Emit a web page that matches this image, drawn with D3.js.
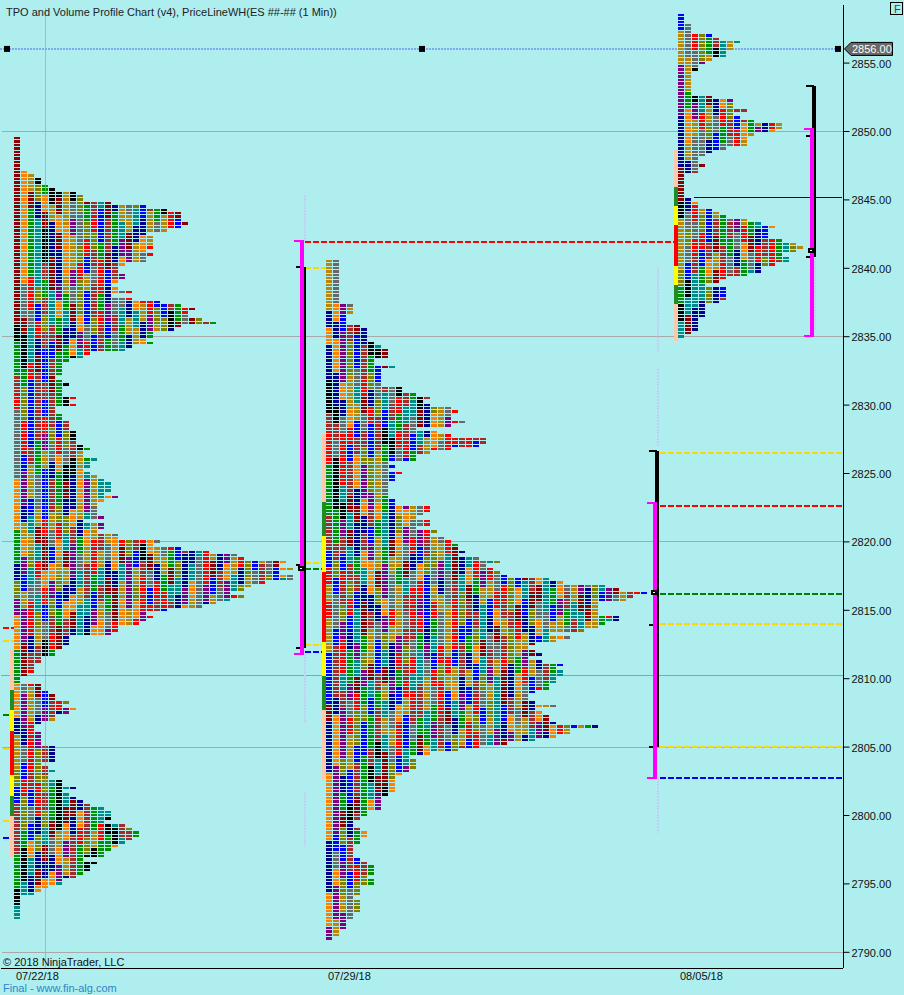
<!DOCTYPE html>
<html><head><meta charset="utf-8">
<script src="https://cdn.jsdelivr.net/npm/d3@7/dist/d3.min.js"></script>
<style>html,body{margin:0;padding:0;background:#afeeee}svg{display:block}text{font-family:"Liberation Sans",Arial,sans-serif}</style>
</head><body><svg id="c" width="904" height="995"></svg>
<script>
// ---------- data ----------
const tickPrices=[2855,2850,2845,2840,2835,2830,2825,2820,2815,2810,2805,2800,2795,2790];
const sessionDates=["07/22/18","07/29/18","08/05/18"];
const sessionTop=[2849.5,2840.5,2858.5];
const gridPrices=[2850,2835,2820,2805,2790];
const lastPrice=2856;
const widths1=[1,1,1,1,1,1,1,1,1,1,2,3,4,4,5,6,9,10,10,14,19,22,24,24,24,25,24,22,19,20,20,20,20,19,20,19,19,16,15,15,16,16,15,14,15,17,14,17,21,24,26,25,25,27,29,24,23,20,20,19,20,17,16,11,10,8,7,7,7,7,6,7,8,7,7,7,
9,8,9,6,6,7,7,8,8,8,9,9,9,9,10,11,10,10,12,11,11,10,11,12,13,14,14,14,13,15,13,12,12,12,12,13,10,13,13,12,15,15,21,20,24,28,32,33,39,38,40,38,40,40,36,34,33,31,33,31,29,27,22,19,20,19,18,15,15,14,8,8,8,7,6,6,4,4,3,3,3,2,1,
1,4,4,5,6,6,8,7,9,8,6,6,4,3,3,4,4,4,4,6,6,6,6,6,4,5,6,5,5,7,7,9,7,8,9,10,11,13,14,14,14,13,16,17,18,18,17,16,15,14,13,13,10,12,11,11,10,9,7,7,5,4,3,1,1,1,1,1,1,1];
const widths2=[2,2,2,2,2,2,2,2,2,2,2,2,2,4,4,4,3,3,3,5,6,6,6,6,7,8,9,9,9,7,7,10,8,8,8,8,8,11,11,13,15,14,15,18,19,18,18,20,18,13,16,18,23,23,22,18,15,13,13,9,10,9,11,10,10,9,9,9,9,9,10,10,
15,15,14,13,15,15,13,16,15,17,18,19,19,20,19,22,25,23,24,25,26,32,34,40,42,46,44,43,39,39,39,39,42,42,40,39,37,32,35,33,30,29,30,31,29,31,34,33,34,34,33,33,32,32,30,29,29,30,33,30,31,32,32,33,
39,35,35,33,30,26,22,19,15,12,13,13,13,12,11,10,10,10,10,10,9,8,8,8,8,6,6,5,4,4,5,6,6,5,5,4,4,4,4,5,6,7,7,7,6,7,7,5,5,5,4,5,5,5,5,4,4,3,3,3,2,2,1];
const widths3=[1,1,1,2,2,2,5,6,9,8,8,7,7,5,4,3,3,2,2,2,2,2,2,2,5,8,8,8,10,8,9,11,15,15,14,11,10,10,10,7,5,4,3,3,4,3,3,1,1,
1,1,1,1,1,2,3,3,5,6,7,10,12,14,13,13,13,15,17,18,17,15,16,16,14,12,12,10,7,6,4,7,7,7,7,6,4,4,4,4,3,3,3,3,2,1];
// colour letters across the columns, one string for each run of five rows
const letters1=["d","d","donkk","doglnkkkkd","dodaogdgylnwtdagylbwnkt","dontdaogpylrbwntgtagygrb","dontkadogyrlbwnpdaogryrg","dontkdaoglbwndaopgyrrr","dontwdaoprgyrbwpkgyrlb","dyrlntpgylbwraoyryrlb","dyrbwtondlbwnpytaogrlbwnrdaog","kdyrlwntaoylrbwngtapgl","nktawbdaoprbwnytago","nktdbwn","wnrwbdn","rlbwwwnk","ylbwbwnk","yrbwrlbwk","yrbnpyrlwkntk","ybwngaoykgtt","opgybwnkaopgtt","opgybwndaopgt","oabgbglaogty","ngtdryrlwaogpgyrtdrlyoyr","nogtdbotpngrwyodlwkogyrbwatagrpydaogtdao","aplrdogdpywrgaotpbwdagnlatyrdaogrlbwydogyr","lbtyoplgatwntdagpgryrndtaoyrbwptagyr","pgytrlbaogtbwndoplrbwrtapgy","oprlbwnodtapgydog","oprgyrdwatko","ndawk","ndw","oyrdbd","opgybwrl","apg","garpwaa","gyrlwad","lbrlwtddkt","brwrlnktat","wlbrwnktdawnkt","wlyaldkdaowntkt","wnbltygowrlgrnkt","nkoadaopwnkk","nktdaopgwn","ktaoo","t"];
const letters2=["gy","gy","gy","aopgy","oabwdaop","aoplbwktdd","aoplbwnkdt","kapgyrlbwnkt","kaogtdaytyrwnkwlnkt","wkaogyrlbwnttdaogyr","rwyrbwbwktrwytaogpryrwg","ryrbwlbwnkyrbwg","nkrwoplgybrb","nkrwoplgyb","nktdaopgnbopgyp","wnktdawotalogyrl","wnpdawbntaopyprgy","bwwtaopgndgyrbwlgrdatyotg","rlbwntogpgndaolyptdaoryrlbwgdaogy","gbrlwaodpygtyrbgaywtdnpgyrlbtwdtaoygpyltpdaw","rywrbdaloygwrpbrgyrlwagbrwlobdytnpwtdagbrygn","gylbtdwaprgyrrbnygrlbwtaogwdaloybgnwtdgntab","gbpatngylgpwwnatygrbnltydwlrgabtgoyrl","bwrnplgbtarlytpbrgbwaodwyrlgpdatg","bwrntpdbdanwrtyrlrgwgbtpgdanrgywnt","bwtpdntwgpbrtwgyrgoabwlgtdaoybrnt","dawyrlbntaogrwgnrbtpgryltbwgdaogy","aoprlbnwgyrbwntpwdanrlbgtaoygwpdarlbgt","aopglbnwtgrbydntwylgbrytpdpgatw","aopgbnwkdybtn","oplbwnktdl","opabwntdk","opnkdn","opdaw","ablwn","aybwbwn","aopbrlnk","oplyl","opgyl","pg"];
const letters3=["bw","gyrlbwnkt","gyrlnkt","pgy","pgkto","pnktdaopwaa","aoprgyrlbwngyrlbw","aogylbnwrogp","agyy","day","dwwd","kaogygylbwnkt","gyrlbwnypgntaowr","glyrbdnwyrdabrntg","gyrbwgwnaoyrwrntl","lbwnodrywnta","nkttlabw","kttalbw","tdaww"];
const palette={d:"#8b0000",a:"#00008b",o:"#ff8000",p:"#800080",g:"#b8860b",y:"#696969",r:"#ff0000",l:"#808000",b:"#0000ff",w:"#a52a2a",n:"#009000",k:"#000000",t:"#008b8b"};
// value-area column: prices of the band edges
const bandEdges1=[2812.15,2809.15,2807.7,2806.15,2802.95,2801.4,2799.95,2796.95];
const bandEdges2=[2827.85,2822.9,2820.4,2817.75,2812.65,2810.15,2807.65,2802.6];
const bandEdges3=[2848.6,2845.9,2844.5,2843.1,2840.1,2838.75,2837.35,2834.65];
const bandColors=["#ffc8aa","#228b22","#ffff00","#ff0000","#ffff00","#228b22","#ffc8aa"];
// session ranges (high, low)
const magentaRange=[[2842.0,2811.7],[2822.9,2802.65],[2850.2,2834.95]];
const blackRange=[[2840.05,2812.2],[2826.6,2804.95],[2853.3,2840.8]];
const blackTicks=[[2818.3,2812.2,2840.05],[2813.9,2804.95,2826.6],[2849.6,2840.8,2853.3]];
const pocPrice=[2818,2816.25,2841.3];
const levelPrices=[
 {p:2841.9,c:"#ff0000",f:0,to:1},{p:2840,c:"#ffd700",f:0},{p:2818.45,c:"#ffd700",f:0},{p:2817.95,c:"#008000",f:0},{p:2812.45,c:"#ffd700",f:0},{p:2811.95,c:"#0000ff",f:0},
 {p:2826.45,c:"#ffd700",f:1},{p:2822.6,c:"#ff0000",f:1},{p:2816.15,c:"#008000",f:1},{p:2813.95,c:"#ffd700",f:1},{p:2805,c:"#ffd700",f:1},{p:2802.7,c:"#0000ff",f:1}];
const priorLevels=[[2813.7,"#ff0000"],[2812.75,"#ffd700"],[2807.3,"#008000"],[2804.85,"#ffd700"],[2799.55,"#ffd700"],[2798.35,"#0000ff"]];
const naked=2845.15;
const bluePrice=2810.2;
const faint=[[0,2845.3,2841.9],[0,2812,2806.7],[0,2801.7,2797.7],[1,2840,2833.8],[1,2832.6,2827],[1,2802.7,2798.7],[2,2840.7,2835.5],[2,2851.3,2848.9]];

// ---------- scales ----------
const W=904,H=995,axisX=843,axisY=968;
const y=d3.scaleLinear().domain([2850,2790]).range([131,951.8]);
const colX=d3.scaleLinear().domain([0,1]).range([0,7]);
const startX=d3.scaleOrdinal().domain(sessionDates).range([14,326,678]);
const statX=d3.scaleOrdinal().domain(sessionDates).range([304,657,814]);
const svg=d3.select("#c");
svg.append("rect").attr("width",W).attr("height",H).attr("fill","#afeeee");

// grid
const grid=svg.append("g").attr("shape-rendering","crispEdges");
grid.selectAll("line").data(gridPrices).join("line")
 .attr("x1",2).attr("x2",axisX).attr("y1",d=>Math.round(y(d))+.5).attr("y2",d=>Math.round(y(d))+.5)
 .attr("stroke","#a9a9a9");
grid.append("line").attr("x1",1).attr("x2",axisX).attr("y1",Math.round(y(bluePrice))+.5).attr("y2",Math.round(y(bluePrice))+.5).attr("stroke","#7ba0e0");

// faint dotted verticals
svg.append("g").selectAll("line").data(faint).join("line")
 .attr("x1",d=>statX(sessionDates[d[0]])+1).attr("x2",d=>statX(sessionDates[d[0]])+1)
 .attr("y1",d=>y(d[1])).attr("y2",d=>y(d[2]))
 .attr("stroke","#c4ccf6").attr("stroke-width",2).attr("stroke-dasharray","2 1");

// price line
svg.append("line").attr("x1",0).attr("x2",838).attr("y1",y(lastPrice)+.0).attr("y2",y(lastPrice))
 .attr("stroke","#7da7ee").attr("stroke-width",2).attr("stroke-dasharray","2 1");

// level lines
const lev=svg.append("g").attr("shape-rendering","crispEdges");
lev.selectAll("line").data(levelPrices).join("line")
 .attr("x1",d=>d.f===0?305:660).attr("x2",d=>d.to?674:(d.f===0?326:842))
 .attr("y1",d=>Math.round(y(d.p))).attr("y2",d=>Math.round(y(d.p)))
 .attr("stroke",d=>d.c).attr("stroke-width",2).attr("stroke-dasharray","6 2");
lev.append("line").attr("x1",694).attr("x2",842).attr("y1",Math.round(y(naked))+.5).attr("y2",Math.round(y(naked))+.5).attr("stroke","#00008b");
const prior=svg.append("g").attr("shape-rendering","crispEdges");
prior.selectAll("g").data(priorLevels).join("g").each(function(d){
 d3.select(this).selectAll("rect").data([[3,6],[11,3]]).join("rect")
  .attr("x",s=>s[0]).attr("width",s=>s[1]).attr("y",Math.round(y(d[0]))-1).attr("height",2).attr("fill",d[1]);
});

// value-area columns
[bandEdges1,bandEdges2,bandEdges3].forEach((edges,s)=>{
 svg.append("g").attr("shape-rendering","crispEdges").selectAll("rect").data(bandColors).join("rect")
  .attr("x",startX(sessionDates[s])-4).attr("width",4)
  .attr("y",(c,i)=>Math.round(y(edges[i]))).attr("height",(c,i)=>Math.round(y(edges[i+1]))-Math.round(y(edges[i])))
  .attr("fill",c=>c);
});

// TPO cells
const stagger=[0,2,4,1,3];
function cells(widths,letters,top){
 const out=[];
 widths.forEach((w,row)=>{
  for(let col=0;col<w;col++){
   const band=Math.min(letters.length-1,Math.floor((row+stagger[col%5])/5));
   const str=letters[band];
   out.push({row,col,price:top-row*.25,c:palette[str[col%str.length]]});
  }
 });
 return out;
}
[[widths1,letters1],[widths2,letters2],[widths3,letters3]].forEach((a,s)=>{
 const x0=startX(sessionDates[s]);
 svg.append("g").attr("shape-rendering","crispEdges").selectAll("rect").data(cells(a[0],a[1],sessionTop[s])).join("rect")
  .attr("x",d=>x0+colX(d.col)).attr("width",6)
  .attr("y",d=>Math.round(y(d.price))-1)
  .attr("height",d=>Math.max(2,Math.round(y(d.price-.25))-Math.round(y(d.price))-1))
  .attr("fill",d=>d.c);
});

// session brackets
sessionDates.forEach((d,s)=>{
 const g=svg.append("g").attr("shape-rendering","crispEdges"), x=statX(d);
 const [bh,bl]=blackRange[s], [mh,ml]=magentaRange[s];
 g.append("rect").attr("x",x-2).attr("width",4).attr("y",y(bh)).attr("height",y(bl)-y(bh)).attr("fill","#000");
 blackTicks[s].forEach(p=>g.append("rect").attr("x",x-8).attr("width",8).attr("y",y(p)-1).attr("height",2).attr("fill","#000"));
 g.append("rect").attr("x",x-4).attr("width",4).attr("y",y(mh)).attr("height",y(ml)-y(mh)).attr("fill","#ff00ff");
 g.append("rect").attr("x",x-10).attr("width",10).attr("y",y(mh)).attr("height",2).attr("fill","#ff00ff");
 g.append("rect").attr("x",x-10).attr("width",10).attr("y",y(ml)-2).attr("height",2).attr("fill","#ff00ff");
 g.append("rect").attr("x",x-6).attr("width",7).attr("y",y(pocPrice[s])-2.5).attr("height",5).attr("fill","#000");
 g.append("rect").attr("x",x-4).attr("width",2).attr("y",y(pocPrice[s])-.5).attr("height",1).attr("fill","#fff");
});

// price markers
svg.append("g").selectAll("rect").data([7,422,838]).join("rect")
 .attr("x",d=>d-3).attr("y",y(lastPrice)-3).attr("width",6).attr("height",6).attr("fill","#000");

// vertical line
svg.append("line").attr("x1",45.5).attr("x2",45.5).attr("y1",8).attr("y2",axisY).attr("stroke","#a0a0a0").attr("stroke-opacity",.65);

// axes
const ay=svg.append("g").attr("transform",`translate(${axisX+.5},0)`)
 .call(d3.axisRight(y).tickValues(tickPrices).tickFormat(d3.format(".2f")).tickSize(6).tickPadding(2));
ay.select(".domain").remove();
ay.selectAll("text").attr("font-size",11).attr("font-family","Liberation Sans").attr("fill","#111").attr("dy","0.4em");
ay.selectAll("line").attr("stroke","#000");
svg.append("line").attr("x1",axisX+.5).attr("x2",axisX+.5).attr("y1",5).attr("y2",axisY).attr("stroke","#000");
svg.append("line").attr("x1",1).attr("x2",axisX).attr("y1",axisY+.5).attr("y2",axisY+.5).attr("stroke","#000");
svg.append("g").selectAll("text").data(sessionDates).join("text")
 .attr("x",d=>startX(d)+2).attr("y",980).attr("font-size",11).attr("fill","#111").text(d=>d);

// price tag
const ty=y(lastPrice);
svg.append("path").attr("d",`M844.5,${ty} L851,${ty-6.5} H892.5 V${ty+6.5} H851 Z`).attr("fill","#696969").attr("stroke","#000");
svg.append("text").attr("x",852).attr("y",ty+4).attr("font-size",11).attr("fill","#fff").text(d3.format(".2f")(lastPrice));

// texts
svg.append("text").attr("x",6).attr("y",16).attr("font-size",11).attr("fill","#222").text("TPO and Volume Profile Chart (v4), PriceLineWH(ES ##-## (1 Min))");
svg.append("text").attr("x",3).attr("y",966).attr("font-size",11).attr("fill","#111").text("© 2018 NinjaTrader, LLC");
svg.append("text").attr("x",3).attr("y",992).attr("font-size",11).attr("fill","#2a86c8").text("Final - www.fin-alg.com");
svg.append("rect").attr("x",890.5).attr("y",2.5).attr("width",12).attr("height",12).attr("fill","none").attr("stroke","#000");
svg.append("text").attr("x",894).attr("y",12.5).attr("font-size",11).attr("fill","#444").text("F");
</script></body></html>
